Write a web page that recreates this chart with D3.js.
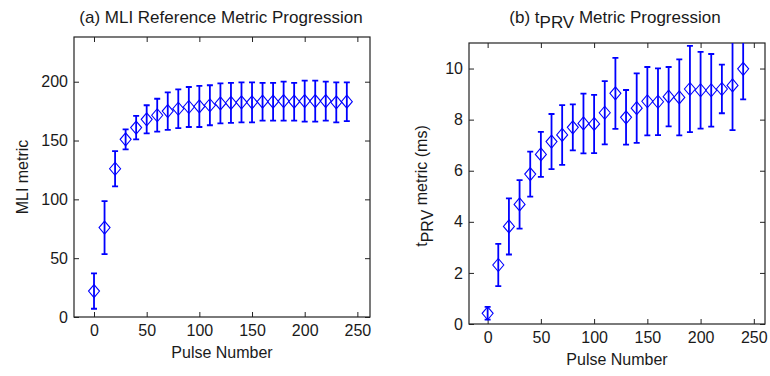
<!DOCTYPE html>
<meta charset="utf-8">
<script src="https://d3js.org/d3.v7.min.js"></script>
<style>
  body { margin: 0; background: #fff; }
  text { font-family: "Liberation Sans", Arial, sans-serif; fill: #1a1a1a; }
</style>
<div id="chart"></div>
<script>

// pulse numbers shared by both panels
const pulses = [0, 10, 20, 30, 40, 50, 60, 70, 80, 90, 100, 110, 120,
                130, 140, 150, 160, 170, 180, 190, 200, 210, 220, 230, 240];

// (a) MLI reference metric: mean and error half-width
const mliMean = [22, 76, 126, 151, 161, 168, 171.5, 175, 177, 178.5, 179, 180, 181.5,
                 182, 182.5, 182.5, 183, 183, 183.5, 183, 183.5, 183.5, 183.5, 182.5, 183];
const mliErr  = [15, 22.5, 15, 8.5, 10, 12, 14, 16, 16.5, 17, 17.5, 17, 17,
                 17, 17, 17, 16, 16, 16.5, 16, 17.5, 17.5, 16.5, 17, 16.5];

// (b) tPRV metric (ms): mean and error half-width
const tprvMean = [0.42, 2.31, 3.82, 4.68, 5.87, 6.64, 7.14, 7.40, 7.70, 7.85, 7.83, 8.27, 9.03,
                  8.09, 8.45, 8.72, 8.70, 8.90, 8.87, 9.20, 9.15, 9.15, 9.20, 9.34, 9.99];
const tprvErr  = [0.25, 0.83, 1.1, 0.95, 0.88, 0.88, 1.08, 1.17, 0.9, 1.17, 1.14, 1.24, 1.39,
                  1.07, 1.36, 1.34, 1.31, 1.16, 1.49, 1.69, 1.5, 1.42, 0.95, 1.75, 1.2];

const xTicks = [0, 50, 100, 150, 200, 250];
const mliTicks = [0, 50, 100, 150, 200];
const tprvTicks = [0, 2, 4, 6, 8, 10];

const width = 770, height = 376;
const blue = "#0000ff";

const svg = d3.select("#chart")
  .append("svg")
    .attr("width", width)
    .attr("height", height);

function panel(id, box, xDomain, yDomain, yTicks, means, errs) {
  const x = d3.scaleLinear().domain(xDomain).range([box.left, box.right]);
  const y = d3.scaleLinear().domain(yDomain).range([box.bottom, box.top]);
  const g = svg.append("g");

  // ticks on all four sides, pointing inwards
  g.append("g")
    .attr("transform", `translate(0, ${box.bottom})`)
    .call(d3.axisBottom(x).tickValues(xTicks).tickSizeInner(-5).tickSizeOuter(0).tickPadding(8))
    .call(a => a.select(".domain").remove());
  g.append("g")
    .attr("transform", `translate(0, ${box.top})`)
    .call(d3.axisTop(x).tickValues(xTicks).tickFormat("").tickSizeInner(-5).tickSizeOuter(0))
    .call(a => a.select(".domain").remove());
  g.append("g")
    .attr("transform", `translate(${box.left}, 0)`)
    .call(d3.axisLeft(y).tickValues(yTicks).tickSizeInner(-5).tickSizeOuter(0).tickPadding(6))
    .call(a => a.select(".domain").remove());
  g.append("g")
    .attr("transform", `translate(${box.right}, 0)`)
    .call(d3.axisRight(y).tickValues(yTicks).tickFormat("").tickSizeInner(-5).tickSizeOuter(0))
    .call(a => a.select(".domain").remove());
  g.selectAll(".tick line").attr("stroke", "#222");
  g.selectAll(".tick text").style("font-size", "16px").attr("fill", "#1a1a1a");

  g.append("rect")
    .attr("x", box.left).attr("y", box.top)
    .attr("width", box.right - box.left).attr("height", box.bottom - box.top)
    .attr("fill", "none").attr("stroke", "#222").attr("stroke-width", 1.2);

  g.append("clipPath").attr("id", id)
    .append("rect")
    .attr("x", box.left).attr("y", box.top)
    .attr("width", box.right - box.left).attr("height", box.bottom - box.top);

  const data = pulses.map((p, i) => ({p: p, m: means[i], e: errs[i]}));
  const marks = g.append("g").attr("clip-path", `url(#${id})`);
  const cap = 3;

  marks.selectAll("path.bar")
    .data(data)
    .join("path")
      .attr("class", "bar")
      .attr("d", d => {
        const cx = x(d.p), y0 = y(d.m - d.e), y1 = y(d.m + d.e);
        return `M${cx},${y0}V${y1}M${cx - cap},${y0}H${cx + cap}M${cx - cap},${y1}H${cx + cap}`;
      })
      .attr("fill", "none")
      .attr("stroke", blue)
      .attr("stroke-width", 1.8);

  marks.selectAll("path.dia")
    .data(data)
    .join("path")
      .attr("class", "dia")
      .attr("d", d => {
        const cx = x(d.p), cy = y(d.m);
        return `M${cx},${cy - 6.5}L${cx + 5.5},${cy}L${cx},${cy + 6.5}L${cx - 5.5},${cy}Z`;
      })
      .attr("fill", "none")
      .attr("stroke", blue)
      .attr("stroke-width", 1.1);

  // x label
  g.append("text")
    .attr("x", (box.left + box.right) / 2)
    .attr("y", box.bottom + 41)
    .attr("text-anchor", "middle")
    .style("font-size", "16px")
    .text("Pulse Number");

  return g;
}

const left = panel("clipA", {left: 74, right: 370, top: 37, bottom: 317},
  [-19, 262], [0, 238], mliTicks, mliMean, mliErr);
const right = panel("clipB", {left: 469, right: 765, top: 43, bottom: 324},
  [-17.5, 260.5], [0, 11], tprvTicks, tprvMean, tprvErr);

// titles
left.append("text")
  .attr("x", 221).attr("y", 23)
  .attr("text-anchor", "middle")
  .style("font-size", "17px")
  .text("(a) MLI Reference Metric Progression");

const tb = right.append("text")
  .attr("x", 615).attr("y", 23)
  .attr("text-anchor", "middle")
  .style("font-size", "17px");
tb.append("tspan").text("(b) t");
tb.append("tspan").attr("dy", 5).text("PRV");
tb.append("tspan").attr("dy", -5).text(" Metric Progression");

// y labels
left.append("text")
  .attr("transform", "translate(28, 177) rotate(-90)")
  .attr("text-anchor", "middle")
  .style("font-size", "16px")
  .text("MLI metric");

const yl = right.append("text")
  .attr("transform", "translate(427, 186) rotate(-90)")
  .attr("text-anchor", "middle")
  .style("font-size", "16px");
yl.append("tspan").text("t");
yl.append("tspan").attr("dy", 6).text("PRV");
yl.append("tspan").attr("dy", -6).text(" metric (ms)");

</script>
